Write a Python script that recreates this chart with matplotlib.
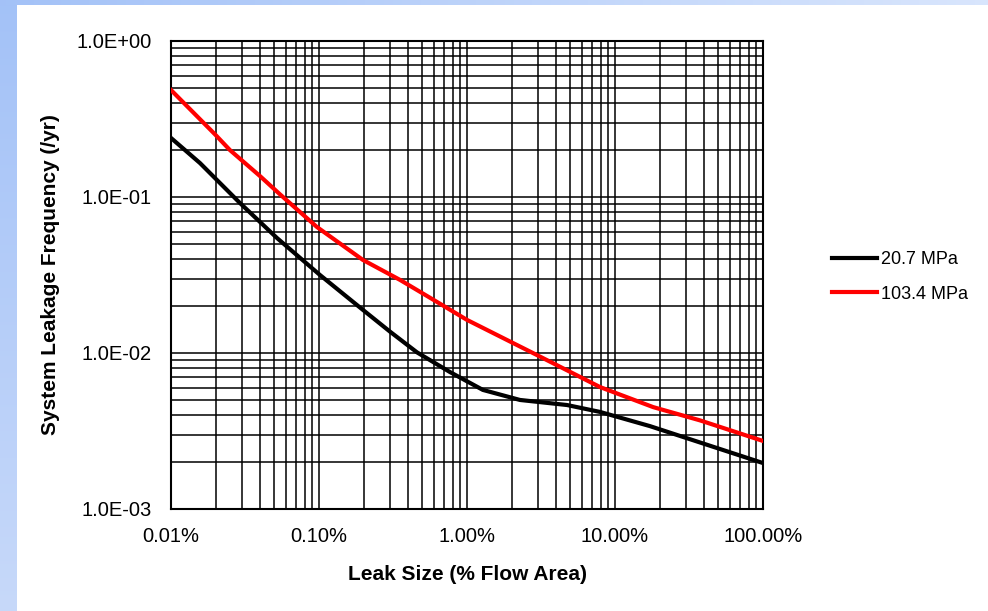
import numpy as np
import matplotlib
matplotlib.use("Agg")
import matplotlib.pyplot as plt
from matplotlib.ticker import FixedLocator, LogLocator, NullFormatter

plt.rcParams['font.family'] = ['Liberation Sans', 'DejaVu Sans']

# Data (leak size in % of flow area, frequency per year)
x_black = [0.01, 0.0157, 0.0292, 0.052, 0.1016, 0.198, 0.302, 0.459, 0.767, 1.28, 2.28, 4.74, 7.92, 17.2, 100.0]
y_black = [0.239, 0.165, 0.0916, 0.0546, 0.0316, 0.0189, 0.0137, 0.0101, 0.00755, 0.0058, 0.0050, 0.00464, 0.00419, 0.0034, 0.00197]

x_red = [0.01, 0.02, 0.025, 0.04, 0.0545, 0.0969, 0.198, 0.353, 0.537, 1.0, 2.97, 7.92, 18.1, 37.5, 100.0]
y_red = [0.485, 0.25, 0.20, 0.136, 0.104, 0.0642, 0.0395, 0.0294, 0.0232, 0.0163, 0.0097, 0.00605, 0.0045, 0.0037, 0.00273]

series_labels = ["20.7 MPa", "103.4 MPa"]
x_ticks = [0.01, 0.1, 1, 10, 100]
x_ticklabels = ["0.01%", "0.10%", "1.00%", "10.00%", "100.00%"]
y_ticks = [1e-3, 1e-2, 1e-1, 1e0]
y_ticklabels = ["1.0E-03", "1.0E-02", "1.0E-01", "1.0E+00"]

W, H = 988, 611
fig = plt.figure(figsize=(W / 100, H / 100), dpi=100)

# background with light blue gradient strips on left and top
bg = np.ones((H, W, 3))
left_w, top_h = 17, 5
c_top = np.array([0.64, 0.76, 0.97])
c_bot = np.array([0.78, 0.85, 0.98])
c_right = np.array([0.85, 0.90, 0.99])
t = np.linspace(0, 1, H)[:, None]
bg[:, :left_w, :] = (c_top * (1 - t) + c_bot * t)[:, None, :]
s = np.linspace(0, 1, W)[:, None]
bg[:top_h, :, :] = (c_top * (1 - s) + c_right * s)[None, :, :]
bax = fig.add_axes([0, 0, 1, 1], zorder=-1)
bax.imshow(bg, aspect='auto', interpolation='nearest')
bax.axis('off')

ax = fig.add_axes([171 / W, 1 - 509 / H, (763 - 171) / W, (509 - 41) / H])
ax.set_xscale('log')
ax.set_yscale('log')
ax.set_xlim(0.01, 100)
ax.set_ylim(1e-3, 1)

ax.plot(x_black, y_black, color='black', lw=3.0, label=series_labels[0], zorder=3,
        solid_joinstyle='round')
ax.plot(x_red, y_red, color='#ff0000', lw=3.0, label=series_labels[1], zorder=3,
        solid_joinstyle='round')

ax.xaxis.set_major_locator(FixedLocator(x_ticks))
ax.set_xticklabels(x_ticklabels)
ax.yaxis.set_major_locator(FixedLocator(y_ticks))
ax.set_yticklabels(y_ticklabels)
ax.xaxis.set_minor_locator(LogLocator(base=10, subs=np.arange(2, 10), numticks=20))
ax.yaxis.set_minor_locator(LogLocator(base=10, subs=np.arange(2, 10), numticks=20))
ax.xaxis.set_minor_formatter(NullFormatter())
ax.yaxis.set_minor_formatter(NullFormatter())

ax.grid(True, which='both', color='black', lw=1.1)
ax.set_axisbelow(True)
ax.tick_params(which='both', length=0, labelsize=14.5)
ax.tick_params(axis='y', pad=14)
ax.tick_params(axis='x', pad=13)
for sp in ax.spines.values():
    sp.set_linewidth(1.5)
    sp.set_color('black')

ax.set_xlabel("Leak Size (% Flow Area)", fontsize=15, fontweight='bold', labelpad=14)
ax.set_ylabel("System Leakage Frequency (/yr)", fontsize=15, fontweight='bold', labelpad=12)

leg = fig.legend(loc='center left', bbox_to_anchor=(832 / W, 1 - 277 / H), frameon=False,
                 fontsize=13, handlelength=2.5, handletextpad=0.2, labelspacing=0.95,
                 borderpad=0, borderaxespad=0)

fig.savefig("out.png", dpi=100)
